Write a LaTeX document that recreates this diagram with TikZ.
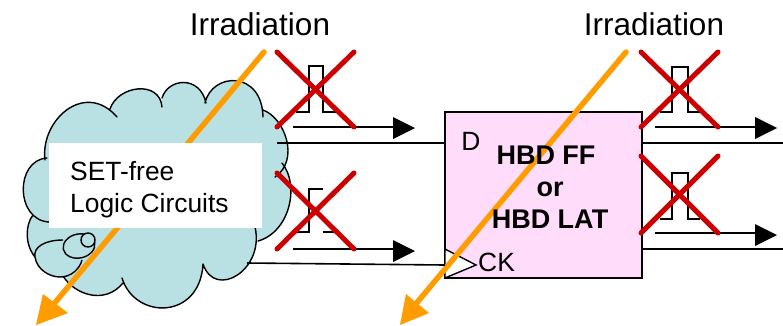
\documentclass[tikz,border=0pt]{standalone}
\usepackage{fontspec}
\setmainfont{Liberation Sans}
\usetikzlibrary{arrows.meta}
\definecolor{cloudfill}{HTML}{B9E0E3}
\definecolor{boxfill}{HTML}{FFDDFA}
\definecolor{crossred}{HTML}{CC0000}
\definecolor{rayorange}{HTML}{FF9D00}
\tikzset{
  wire/.style={draw=black,line width=1.6pt},
  cross/.style={draw=crossred,line width=5pt,line cap=round},
  ray/.style={draw=rayorange,line width=5.5pt,line cap=round},
  rayhead/.style={fill=rayorange,draw=none},
  pulse/.style={draw=black,line width=1.5pt,line join=miter},
  lab/.style={font=\fontsize{26.4}{32}\selectfont,inner sep=0pt},
  title/.style={font=\fontsize{31.5}{36}\selectfont,inner sep=0pt},
  bump/.style={draw=black,line width=1.4pt,fill=cloudfill},
  cloudline/.style={draw=black,line width=1.4pt},
}
\newcommand{\cloudshape}[2]{%
  \path[#1]
  (45,160) .. controls (40,120) and (85,80) .. (117,117) #2
  (110,109) .. controls (118,85) and (160,80) .. (162,107) #2
  (162,98) .. controls (168,78) and (200,75) .. (206,103) #2
  (205,103) .. controls (212,72) and (262,70) .. (263,117) #2
  (263,110) .. controls (285,118) and (300,160) .. (275,177) #2
  (282,163) .. controls (300,185) and (290,232) .. (258,241) #2
  (255,227) .. controls (265,270) and (215,300) .. (203,264) #2
  (203,264) .. controls (200,320) and (135,320) .. (122,278) #2
  (123,283) .. controls (105,305) and (75,295) .. (63,276) #2
  (35,257) .. controls (25,245) and (25,225) .. (33,215) #2
  (49,222) .. controls (15,220) and (15,160) .. (47,158);
}
\newcommand{\outarrow}[3]{% x of start, y of line, y of head centre
  \draw[wire] (#1,#2) -- (#1+102,#2);
  \fill (#1+100,#3-11) -- (#1+122,#3) -- (#1+100,#3+11) -- cycle;
}
\begin{document}
\begin{tikzpicture}[x=1pt,y=-1pt]
\useasboundingbox (0,0) rectangle (783,325);
% cloud
\cloudshape{fill=cloudfill}{--}
\cloudshape{cloudline,line cap=round}{}
\path[bump] (63,240) .. controls (45,240) and (33,247) .. (35,257)
  .. controls (37,270) and (50,277) .. (60,277)
  .. controls (72,277) and (80,268) .. (82,260);
\path[bump,rotate around={12:(79,246)}] (79,246) ellipse [x radius=16,y radius=12];
\path[bump] (88,240) circle [radius=7];
% rays
\coordinate (r1s) at (264,52);
\coordinate (r1e) at (53,305);
\coordinate (r2s) at (626,52);
\coordinate (r2e) at (415,305);
% box
\node[draw=black,line width=1.8pt,fill=boxfill,minimum width=197pt,minimum height=166pt,inner sep=0pt,outer sep=0pt,anchor=north west] (ff) at (445,112) {};
\draw[line width=1.4pt,fill=white,line join=miter] (445,249) -- (476,265) -- (445,278) -- cycle;
\draw[ray] (r1s) -- (r1e);
\draw[ray] (r2s) -- (r2e);
\fill[rayhead] (36,325) -- (43,294) -- (68,313) -- cycle;
\fill[rayhead] (400,325) -- (406,294) -- (429,313) -- cycle;
\node[fill=white,minimum width=213pt,minimum height=85pt,inner sep=0pt,anchor=north west] (logic) at (49,143) {};
\node[lab,anchor=west,align=left] (logictext) at (70,190) {SET-free\\Logic Circuits};
\node[title] (irr1) at (260,24) {Irradiation};
\node[title] (irr2) at (654,24) {Irradiation};
\node[lab] (dlabel) at (471,141) {D};
\node[lab,font=\fontsize{27}{32}\selectfont\bfseries,align=center] (fflabel) at (550,187) {HBD FF\hspace*{8pt}\\or\\HBD LAT};
\node[lab,anchor=west] (cklabel) at (478,262) {CK};
% wires
\coordinate (w1) at (277,143);
\coordinate (w2) at (247,263);
\coordinate (w2e) at (445,265);
\coordinate (o1) at (783,143);
\coordinate (o2) at (783,249);
\draw[wire] (w1) -- (w1 -| ff.west);
\draw[wire] (w2) -- (w2e);
\draw[wire] (o1 -| ff.east) -- (o1);
\draw[wire] (o2 -| ff.east) -- (o2);
% pulses
\draw[pulse] (296,112) -- (309,112) -- (309,66) -- (323,66) -- (323,112) -- (336,112);
\draw[pulse] (296,232) -- (309,232) -- (309,189) -- (323,189);
\draw[pulse] (323,232) -- (336,232);
\draw[pulse] (660,112) -- (672,112) -- (672,67) -- (688,67) -- (688,112) -- (700,112);
\draw[pulse] (660,219) -- (672,219) -- (672,173) -- (688,173) -- (688,219) -- (700,219);
\outarrow{293}{127}{128}
\outarrow{293}{249}{251}
\outarrow{655}{127}{128}
\outarrow{655}{233}{235}
% crosses
\foreach \xa/\xb/\ya/\yb in {277/354/52/127,277/354/173/249,641/718/52/127,641/718/156/233}{
  \draw[cross] (\xa,\ya) -- (\xb,\yb);
  \draw[cross] (\xb,\ya) -- (\xa,\yb);
}
\end{tikzpicture}
\end{document}
